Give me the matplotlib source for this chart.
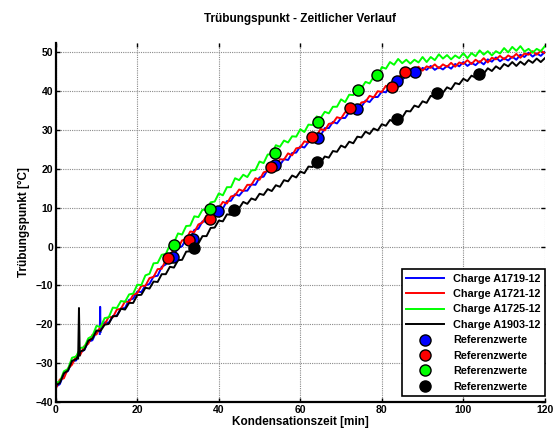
import matplotlib
matplotlib.use('Agg')
import matplotlib.pyplot as plt

plt.rcParams['font.family'] = ['Liberation Sans', 'DejaVu Sans']
plt.rcParams['font.weight'] = 'bold'

# time axis [min], one sample per minute
zeit = list(range(0, 121))

# Charge A1719-12 (blue)
a1719 = [-36.1, -35.4, -32.8, -32.0, -29.6, -29.3, -27.3, -26.6, -24.5, -24.1,
         -21.8, -21.4, -19.5, -19.6, -18.0, -17.7, -15.9, -15.8, -13.7, -13.4,
         -11.6, -11.7, -10.0, -9.6, -7.7, -7.5, -5.2, -4.6, -2.4, -2.2,
         -0.4, 0.1, 2.0, 2.2, 4.3, 4.6, 6.5, 6.4, 8.0, 8.3,
         10.0, 9.8, 11.7, 11.8, 13.5, 13.1, 14.4, 14.4, 16.0, 15.9,
         17.8, 18.0, 19.8, 19.6, 21.0, 21.0, 22.5, 22.3, 24.1, 24.2,
         25.8, 25.5, 26.9, 27.1, 28.7, 28.6, 30.5, 30.5, 32.1, 31.7,
         33.1, 33.1, 34.6, 34.4, 36.1, 36.0, 37.6, 37.2, 38.5, 38.5,
         39.9, 39.7, 41.5, 41.5, 43.1, 42.8, 44.2, 44.1, 45.3, 44.7,
         46.0, 45.5, 46.5, 45.5, 46.2, 45.6, 46.5, 45.8, 47.0, 46.4,
         47.5, 46.5, 47.3, 46.7, 47.7, 46.9, 48.2, 47.6, 48.7, 47.7,
         48.5, 47.9, 48.9, 48.1, 49.4, 48.8, 49.9, 48.9, 49.7, 49.1,
         50.1]

# Charge A1721-12 (red)
a1721 = [-36.6, -34.2, -33.9, -31.4, -30.4, -28.2, -27.9, -25.6, -25.0, -22.7,
         -22.6, -20.5, -20.0, -18.1, -18.2, -16.2, -16.0, -14.1, -14.3, -12.4,
         -12.0, -10.1, -10.1, -8.1, -7.8, -5.8, -5.7, -3.4, -2.6, -0.5,
         -0.4, 1.6, 1.9, 3.9, 3.7, 5.7, 6.2, 8.0, 7.9, 9.8,
         9.9, 11.5, 11.1, 12.9, 13.2, 14.7, 14.3, 15.9, 15.9, 17.6,
         17.2, 19.1, 19.5, 21.2, 20.9, 22.5, 22.4, 24.0, 23.5, 25.3,
         25.5, 27.1, 26.8, 28.6, 28.6, 30.3, 29.9, 31.6, 31.8, 33.3,
         33.0, 34.6, 34.5, 36.1, 35.5, 37.1, 37.3, 38.8, 38.4, 40.0,
         39.8, 41.4, 40.9, 42.7, 43.1, 44.8, 44.5, 45.7, 45.2, 46.3,
         45.3, 46.4, 46.0, 46.9, 45.9, 46.9, 46.3, 47.3, 46.3, 47.4,
         47.0, 48.0, 47.0, 48.1, 47.4, 48.5, 47.4, 48.6, 48.2, 49.1,
         48.2, 49.2, 48.6, 49.6, 48.6, 49.7, 49.4, 50.3, 49.4, 50.4,
         49.8]

# Charge A1725-12 (green)
a1725 = [-35.0, -34.8, -32.1, -31.5, -28.6, -28.3, -26.1, -25.9, -23.6, -23.0,
         -20.4, -20.7, -18.4, -18.2, -15.7, -15.8, -14.0, -14.2, -12.3, -12.1,
         -9.8, -9.9, -7.4, -7.0, -4.3, -4.2, -2.1, -1.9, 0.4, 1.0,
         3.4, 3.1, 5.3, 5.4, 7.8, 7.6, 9.5, 9.4, 11.4, 11.6,
         13.7, 13.2, 15.3, 15.3, 17.6, 17.1, 18.5, 17.9, 19.6, 19.7,
         21.9, 21.5, 23.7, 23.8, 26.1, 25.7, 27.3, 26.8, 28.4, 28.3,
         30.2, 29.5, 31.4, 31.3, 33.5, 33.1, 34.7, 34.3, 36.0, 36.0,
         37.9, 37.2, 39.1, 39.0, 41.2, 40.8, 42.4, 42.0, 43.7, 43.7,
         46.2, 45.8, 47.5, 46.8, 48.3, 47.2, 48.1, 47.1, 48.1, 47.4,
         48.8, 47.5, 48.8, 48.0, 49.5, 48.4, 49.3, 48.2, 49.2, 48.5,
         49.8, 48.5, 49.8, 49.0, 50.5, 49.4, 50.3, 49.2, 50.3, 49.7,
         51.1, 50.0, 51.4, 50.4, 51.6, 50.2, 50.9, 49.9, 50.9, 50.3,
         51.6]

# Charge A1903-12 (black)
a1903 = [-35.7, -35.1, -32.6, -31.9, -29.4, -29.0, -27.0, -26.6, -24.2, -23.7,
         -21.6, -21.7, -20.1, -19.9, -17.9, -17.9, -16.0, -16.2, -14.5, -14.5,
         -12.5, -12.4, -10.6, -10.8, -9.0, -9.1, -7.1, -7.1, -5.2, -5.4,
         -3.5, -3.4, -1.3, -1.2, 0.8, 0.8, 2.7, 2.7, 4.8, 4.9,
         6.7, 6.5, 8.3, 8.2, 10.1, 9.9, 11.5, 11.0, 12.4, 12.0,
         13.6, 13.3, 14.8, 14.3, 15.8, 15.4, 17.1, 16.8, 18.3, 17.8,
         19.3, 18.9, 20.6, 20.5, 22.0, 21.6, 23.2, 22.9, 24.6, 24.4,
         26.0, 25.5, 27.0, 26.6, 28.3, 28.1, 29.6, 29.0, 30.4, 29.9,
         31.5, 31.1, 32.6, 32.1, 33.5, 33.2, 34.9, 34.8, 36.3, 35.9,
         37.4, 37.0, 38.8, 38.5, 40.1, 39.6, 41.0, 40.5, 42.1, 41.8,
         43.2, 42.6, 44.0, 43.5, 45.0, 44.5, 45.9, 45.2, 46.4, 45.7,
         47.0, 46.4, 47.5, 46.5, 47.6, 46.8, 48.0, 47.3, 48.4, 47.5,
         48.5]

# short sensor spikes
spike_zeit_a1719 = [10.8, 10.9, 11.0]
spike_a1719 = [-22.5, -15.5, -22.0]
spike_zeit_a1903 = [5.5, 5.7, 5.9]
spike_a1903 = [-28.8, -15.8, -28.0]

# Referenzwerte
ref_zeit_a1719 = [28.8, 33.7, 39.9, 53.7, 64.4, 74.0, 83.8, 88.2]
ref_a1719 = [-2.7, 2.0, 9.2, 21.0, 27.9, 35.4, 42.5, 45.0]
ref_zeit_a1721 = [27.6, 32.6, 37.8, 52.8, 62.9, 72.3, 82.4, 85.7]
ref_a1721 = [-3.0, 1.7, 7.1, 20.4, 28.3, 35.6, 41.2, 45.0]
ref_zeit_a1725 = [29.1, 37.8, 53.9, 64.3, 74.1, 78.9]
ref_a1725 = [0.3, 9.6, 24.0, 32.2, 40.3, 44.2]
ref_zeit_a1903 = [33.8, 43.8, 64.0, 83.7, 93.6, 103.8]
ref_a1903 = [-0.4, 9.3, 21.8, 32.8, 39.5, 44.4]

chargen = ['Charge A1719-12', 'Charge A1721-12', 'Charge A1725-12', 'Charge A1903-12']
farben = ['#0000ff', '#ff0000', '#00ff00', '#000000']

fig = plt.figure(figsize=(5.59, 4.32), dpi=100)
ax = fig.add_axes([0.0997, 0.0694, 0.875, 0.831])

lw = 1.4
ax.plot(zeit, a1719, color=farben[0], lw=lw, label=chargen[0])
ax.plot(spike_zeit_a1719, spike_a1719, color=farben[0], lw=lw)
ax.plot(zeit, a1721, color=farben[1], lw=lw, label=chargen[1])
ax.plot(zeit, a1725, color=farben[2], lw=lw, label=chargen[2])
ax.plot(zeit, a1903, color=farben[3], lw=lw, label=chargen[3])
ax.plot(spike_zeit_a1903, spike_a1903, color=farben[3], lw=lw)

refs = [(ref_zeit_a1719, ref_a1719), (ref_zeit_a1721, ref_a1721),
        (ref_zeit_a1725, ref_a1725), (ref_zeit_a1903, ref_a1903)]
for (rx, ry), c in zip(refs, farben):
    ax.plot(rx, ry, 'o', ms=8, mfc=c, mec='black', mew=1.0, ls='none', label='Referenzwerte')

ax.set_xlim(0, 120)
ax.set_ylim(-40, 52.4)
ax.set_xticks(range(0, 121, 20))
ax.set_yticks(range(-40, 51, 10))
ax.grid(True, color='#8a8a8a', lw=0.8, ls=(0, (1, 1)))
ax.set_axisbelow(True)

for s in ['top', 'right']:
    ax.spines[s].set_visible(False)
for s in ['left', 'bottom']:
    ax.spines[s].set_linewidth(1.6)

ax.tick_params(direction='in', top=True, right=True, length=3, width=1.0,
               labelsize=7.5, pad=2)
for lab in ax.get_xticklabels() + ax.get_yticklabels():
    lab.set_fontweight('bold')

ax.set_title('Trübungspunkt - Zeitlicher Verlauf', fontsize=8.5, fontweight='bold', pad=15)
ax.set_xlabel('Kondensationszeit [min]', fontsize=8.5, fontweight='bold', labelpad=1)
ax.set_ylabel('Trübungspunkt [°C]', fontsize=8.5, fontweight='bold', labelpad=4)

leg = ax.legend(loc='lower right', bbox_to_anchor=(1.0, 0.017), borderaxespad=0,
                fontsize=7.8, labelspacing=0.5, handlelength=3.5, handletextpad=0.8,
                borderpad=0.4, fancybox=False, framealpha=1)
leg.get_frame().set_edgecolor('black')
leg.get_frame().set_linewidth(1.2)
for t in leg.get_texts():
    t.set_fontweight('bold')

fig.savefig('out.png', dpi=100)
